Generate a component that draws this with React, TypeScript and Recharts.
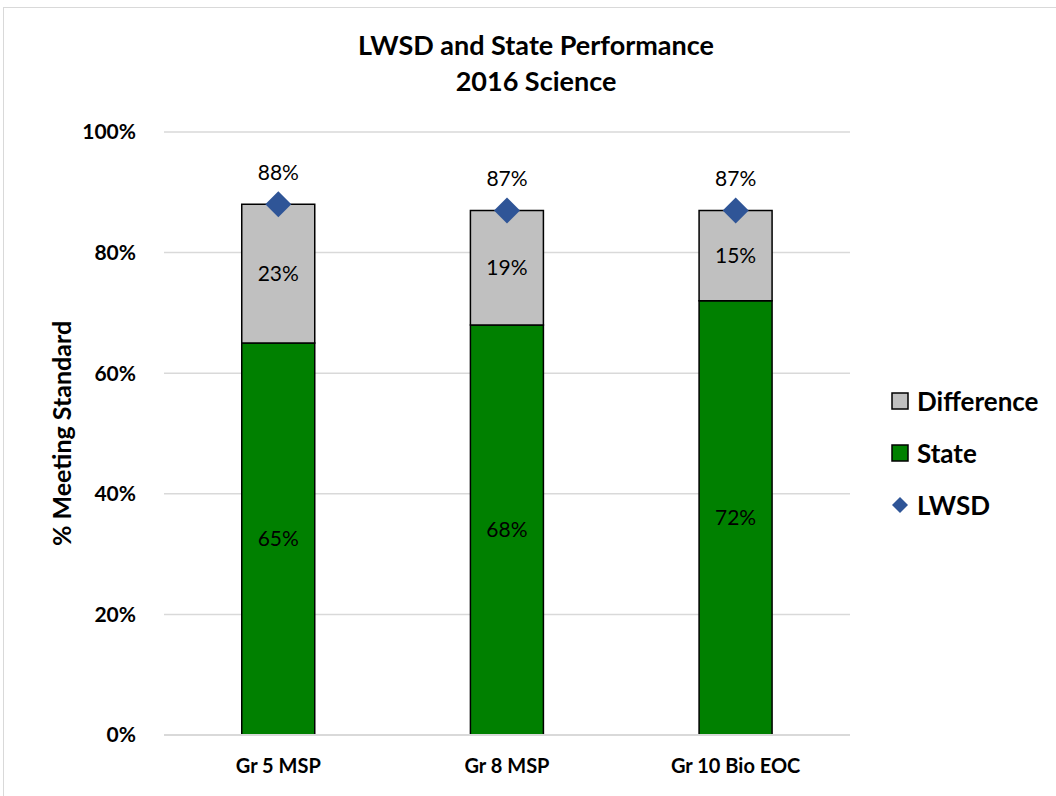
import React from "react";
import {
  Bar,
  CartesianGrid,
  ComposedChart,
  LabelList,
  Line,
  XAxis,
  YAxis,
  Label,
} from "recharts";

const categories = ["Gr 5 MSP", "Gr 8 MSP", "Gr 10 Bio EOC"];
const stateValues = [65, 68, 72];
const differenceValues = [23, 19, 15];
const lwsdValues = [88, 87, 87];
const yTicks = [0, 20, 40, 60, 80, 100];

const data = categories.map((name, i) => ({
  name,
  state: stateValues[i],
  difference: differenceValues[i],
  lwsd: lwsdValues[i],
}));

const FONT = "Lato, 'Open Sans', sans-serif";
const GREEN = "#008000";
const GRAY = "#C0C0C0";
const BLUE = "#2F5597";

const Diamond = (props: any) => {
  const { cx, cy } = props;
  if (cx == null || cy == null) return null;
  const r = 13;
  return (
    <path
      d={`M${cx},${cy - r} L${cx + r},${cy} L${cx},${cy + r} L${cx - r},${cy} Z`}
      fill={BLUE}
    />
  );
};

const legendItems = [
  { label: "Difference", kind: "square", color: GRAY },
  { label: "State", kind: "square", color: GREEN },
  { label: "LWSD", kind: "diamond", color: BLUE },
];

export default function App() {
  return (
    <div
      style={{
        position: "absolute",
        left: 0,
        top: 0,
        width: 1056,
        height: 796,
        overflow: "hidden",
        background: "#fff",
        fontFamily: FONT,
      }}
    >
      <div
        style={{
          position: "absolute",
          left: 3,
          top: 7,
          width: 1100,
          height: 900,
          border: "1px solid #D9D9D9",
        }}
      />
      <div
        style={{
          position: "absolute",
          left: 286,
          width: 500,
          top: 27,
          textAlign: "center",
          fontWeight: 700,
          fontSize: 27,
          lineHeight: "36px",
          color: "#000",
        }}
      >
        <div>LWSD and State Performance</div>
        <div>2016 Science</div>
      </div>

      <div style={{ position: "absolute", left: 0, top: 0 }}>
        <ComposedChart
          width={1056}
          height={796}
          data={data}
          margin={{ top: 132, right: 206, bottom: 21, left: 54 }}
          barCategoryGap="34%"
        >
          <CartesianGrid vertical={false} stroke="#D9D9D9" strokeWidth={1.5} />
          <XAxis
            dataKey="name"
            height={40}
            axisLine={{ stroke: "#D9D9D9", strokeWidth: 2 }}
            tickLine={false}
            tick={{ fill: "#000", fontSize: 20, fontWeight: 700, fontFamily: FONT }}
            tickMargin={18}
          />
          <YAxis
            width={110}
            domain={[0, 100]}
            ticks={yTicks}
            tickFormatter={(v: number) => `${v}%`}
            axisLine={false}
            tickLine={false}
            tickMargin={22}
            tick={{ fill: "#000", fontSize: 21, fontWeight: 700, fontFamily: FONT }}
          >
            <Label
              value="% Meeting  Standard"
              angle={-90}
              position="insideLeft"
              offset={8}
              style={{
                textAnchor: "middle",
                fill: "#000",
                fontSize: 25,
                fontWeight: 700,
                fontFamily: FONT,
                whiteSpace: "pre",
              }}
            />
          </YAxis>
          <Bar
            dataKey="state"
            stackId="a"
            fill={GREEN}
            stroke="#000"
            strokeWidth={1.5}
            isAnimationActive={false}
          >
            <LabelList
              dataKey="state"
              position="center"
              formatter={(v: any) => `${v}%`}
              style={{ fill: "#000", fontSize: 21, fontFamily: FONT }}
            />
          </Bar>
          <Bar
            dataKey="difference"
            stackId="a"
            fill={GRAY}
            stroke="#000"
            strokeWidth={1.5}
            isAnimationActive={false}
          >
            <LabelList
              dataKey="difference"
              position="center"
              formatter={(v: any) => `${v}%`}
              style={{ fill: "#000", fontSize: 21, fontFamily: FONT }}
            />
          </Bar>
          <Line
            dataKey="lwsd"
            stroke="none"
            dot={<Diamond />}
            activeDot={false}
            isAnimationActive={false}
          >
            <LabelList
              dataKey="lwsd"
              position="top"
              offset={24}
              formatter={(v: any) => `${v}%`}
              style={{ fill: "#000", fontSize: 21, fontFamily: FONT }}
            />
          </Line>
        </ComposedChart>
      </div>

      <div style={{ position: "absolute", left: 890, top: 375 }}>
        {legendItems.map((it) => (
          <div
            key={it.label}
            style={{
              display: "flex",
              alignItems: "center",
              height: 52,
              fontSize: 26,
              fontWeight: 700,
              color: "#000",
            }}
          >
            <svg width={20} height={20} style={{ marginRight: 7 }}>
              {it.kind === "square" ? (
                <rect x={2} y={2} width={16} height={16} fill={it.color} stroke="#000" strokeWidth={1.5} />
              ) : (
                <path d="M10,2 L18,10 L10,18 L2,10 Z" fill={it.color} />
              )}
            </svg>
            <span>{it.label}</span>
          </div>
        ))}
      </div>
    </div>
  );
}
